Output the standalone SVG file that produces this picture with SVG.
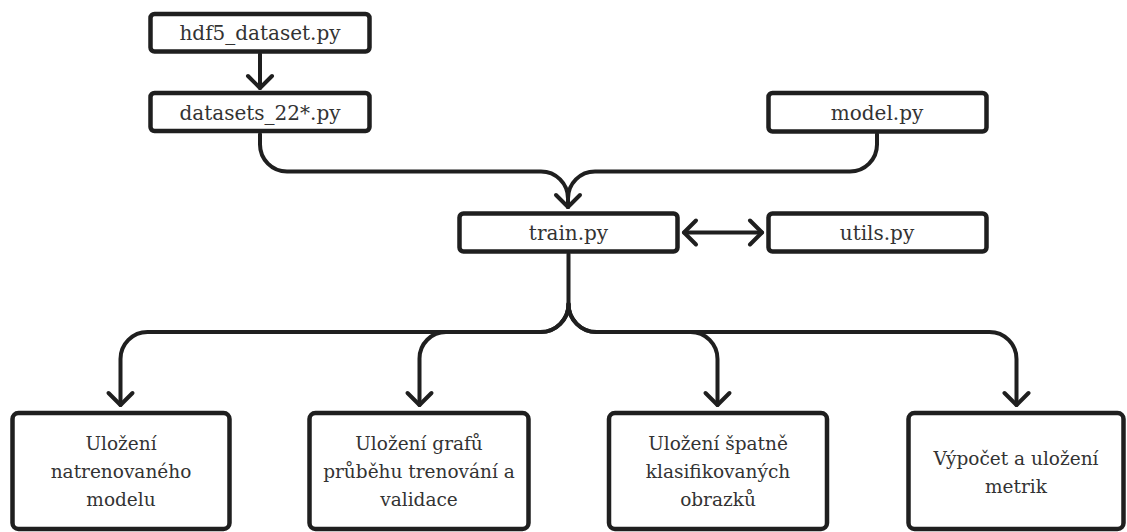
<svg xmlns="http://www.w3.org/2000/svg" width="1127" height="532" viewBox="0 0 1127 532">
<defs>
<style>
.box{fill:#ffffff;stroke:#1f1f1f;stroke-width:4.5}
.lbl{font-family:"DejaVu Serif","Liberation Serif",serif;font-size:20px;fill:#333333;text-anchor:middle}
.lbl2{font-family:"DejaVu Serif","Liberation Serif",serif;font-size:18.5px;fill:#333333;text-anchor:middle}
.con{fill:none;stroke:#1f1f1f;stroke-width:4;stroke-linecap:round;stroke-linejoin:round}
</style>
<marker id="ah" markerUnits="userSpaceOnUse" markerWidth="34" markerHeight="34" refX="17" refY="17" orient="auto-start-reverse" viewBox="0 0 34 34">
<path d="M5,5 L17,17 L5,29" fill="none" stroke="#1f1f1f" stroke-width="4" stroke-linecap="round" stroke-linejoin="round"/>
</marker>
</defs>
<rect width="1127" height="532" fill="#ffffff"/>
<g id="connectors">
<path class="con" d="M260,54 V88" marker-end="url(#ah)"/>
<path class="con" d="M260,134 V144.5 A27,27 0 0 0 287,171.5 H541 A27,27 0 0 1 568,198.5 V207" marker-end="url(#ah)"/>
<path class="con" d="M877,134 V144.5 A27,27 0 0 1 850,171.5 H595 A27,27 0 0 0 568,198.5 V207"/>
<path class="con" d="M684,232.5 H762" marker-start="url(#ah)" marker-end="url(#ah)"/>
<path class="con" d="M568.5,254 V304 A28,28 0 0 1 540.5,332 H147.5 A27,27 0 0 0 120.5,359 V405" marker-end="url(#ah)"/>
<path class="con" d="M568.5,304 A28,28 0 0 1 540.5,332 H446 A26.5,26.5 0 0 0 419.5,358.5 V405" marker-end="url(#ah)"/>
<path class="con" d="M568.5,304 A28,28 0 0 0 596.5,332 H690.5 A27,27 0 0 1 717.5,359 V405" marker-end="url(#ah)"/>
<path class="con" d="M568.5,304 A28,28 0 0 0 596.5,332 H989.5 A27,27 0 0 1 1016.5,359 V405" marker-end="url(#ah)"/>
</g>
<g id="hdf5">
<rect class="box" x="150.5" y="14" width="219" height="37.5" rx="4"/>
<text class="lbl" x="260" y="40">hdf5_dataset.py</text>
</g>
<g id="datasets">
<rect class="box" x="150.5" y="93" width="219" height="38" rx="4"/>
<text class="lbl" x="260" y="120">datasets_22*.py</text>
</g>
<g id="model">
<rect class="box" x="768.5" y="93" width="218" height="38.5" rx="4"/>
<text class="lbl" x="877" y="120">model.py</text>
</g>
<g id="train">
<rect class="box" x="459.5" y="213.5" width="218" height="38" rx="4"/>
<text class="lbl" x="568.5" y="240">train.py</text>
</g>
<g id="utils">
<rect class="box" x="768.5" y="213.5" width="218" height="38" rx="4"/>
<text class="lbl" x="877" y="240">utils.py</text>
</g>
<g id="out1">
<rect class="box" x="12.5" y="413" width="217" height="116" rx="6"/>
<text class="lbl2" x="121" y="450">Uložení</text>
<text class="lbl2" x="121" y="478">natrenovaného</text>
<text class="lbl2" x="121" y="506">modelu</text>
</g>
<g id="out2">
<rect class="box" x="309.5" y="413" width="219" height="116" rx="6"/>
<text class="lbl2" x="419" y="450">Uložení grafů</text>
<text class="lbl2" x="419" y="478">průběhu trenování a</text>
<text class="lbl2" x="419" y="506">validace</text>
</g>
<g id="out3">
<rect class="box" x="609" y="413" width="218" height="116" rx="6"/>
<text class="lbl2" x="718" y="450">Uložení špatně</text>
<text class="lbl2" x="718" y="478">klasifikovaných</text>
<text class="lbl2" x="718" y="506">obrazků</text>
</g>
<g id="out4">
<rect class="box" x="908.5" y="413" width="215" height="116" rx="6"/>
<text class="lbl2" x="1016" y="465">Výpočet a uložení</text>
<text class="lbl2" x="1016" y="493">metrik</text>
</g>
</svg>
